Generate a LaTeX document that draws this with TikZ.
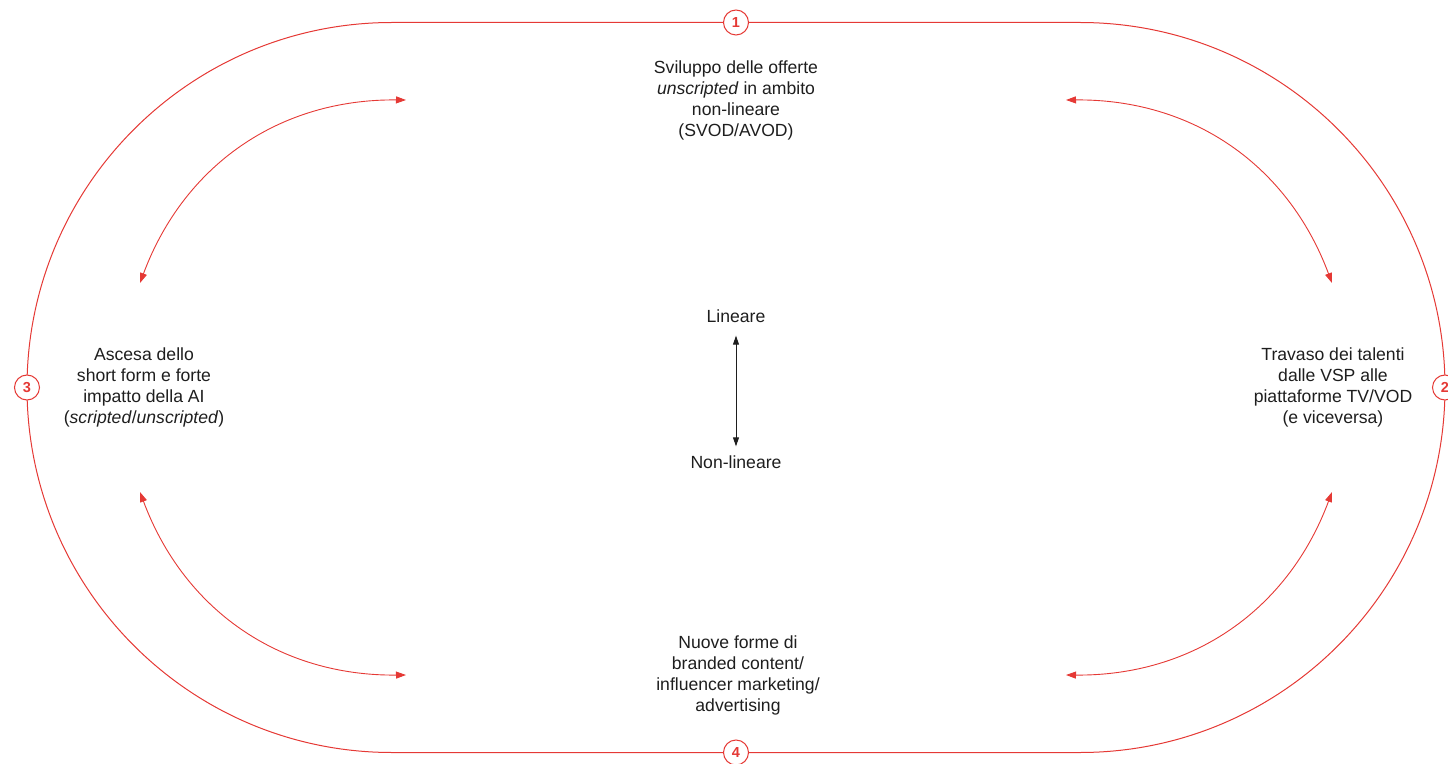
\documentclass[tikz,border=0pt]{standalone}
\usepackage{fontspec}
\setmainfont{Liberation Sans}
\usetikzlibrary{arrows.meta}
\definecolor{ringred}{HTML}{E53935}
\definecolor{inkgray}{HTML}{1E1E1E}

\begin{document}
\begin{tikzpicture}[x=1pt, y=1pt,
    ring/.style={draw=ringred, line width=1pt},
    badge/.style={circle, draw=ringred, fill=white, line width=1pt, minimum size=25pt,
        inner sep=0pt, text=ringred, font=\fontsize{14.5}{14.5}\selectfont\bfseries},
    blurb/.style={align=center, text=inkgray, font=\fontsize{17.6}{21}\selectfont},
    swing/.style={ringred, line width=0.9pt,
        {Triangle[length=10pt,width=7pt]}-{Triangle[length=10pt,width=7pt]}},
    axis/.style={inkgray, line width=0.9pt,
        {Triangle[length=9pt,width=6pt]}-{Triangle[length=9pt,width=6pt]}}
]

    \useasboundingbox (-736,-375.5) rectangle (712,387.5);

    % track
    \draw[ring] (-344,365) -- (344,365) arc[start angle=90, end angle=-90, radius=365]
        -- (-344,-365) arc[start angle=270, end angle=90, radius=365] -- cycle;

    \node[badge] (b1) at (0,365) {1};
    \node[badge] (b2) at (709,0) {2};
    \node[badge] (b3) at (-709,0) {3};
    \node[badge] (b4) at (0,-365) {4};

    \node[blurb] (sviluppo) at (0,287.5) {Sviluppo delle offerte\\\textit{unscripted} in ambito\\non-lineare\\(SVOD/AVOD)};
    \node[blurb] (travaso) at (597,0) {Travaso dei talenti\\dalle VSP alle\\piattaforme TV/VOD\\(e viceversa)};
    \node[blurb] (ascesa) at (-592,0) {Ascesa dello\\short form e forte\\impatto della AI\\(\textit{scripted}/\textit{unscripted})};
    \node[blurb] (nuove) at (2,-287.5) {Nuove forme di\\branded content/\\influencer marketing/\\advertising};

    % centre
    \node[blurb, inner sep=2pt] (lin) at (0,71.5) {Lineare};
    \node[blurb, inner sep=2pt] (nonlin) at (0,-74.5) {Non-lineare};
    \draw[axis, shorten <=11pt, shorten >=7pt] (lin) -- (nonlin);

    % arcs
    \coordinate (p1) at (-596,104.5);
    \coordinate (p2) at (-330,287.5);
    \coordinate (p3) at (330,287.5);
    \coordinate (p4) at (596,104.5);
    \coordinate (p5) at (596,-104.5);
    \coordinate (p6) at (330,-287.5);
    \coordinate (p7) at (-330,-287.5);
    \coordinate (p8) at (-596,-104.5);

    \foreach \a/\b in {p1/p2, p3/p4, p5/p6, p7/p8}
        \draw[swing] (\a) to[bend left=35] (\b);

\end{tikzpicture}
\end{document}
